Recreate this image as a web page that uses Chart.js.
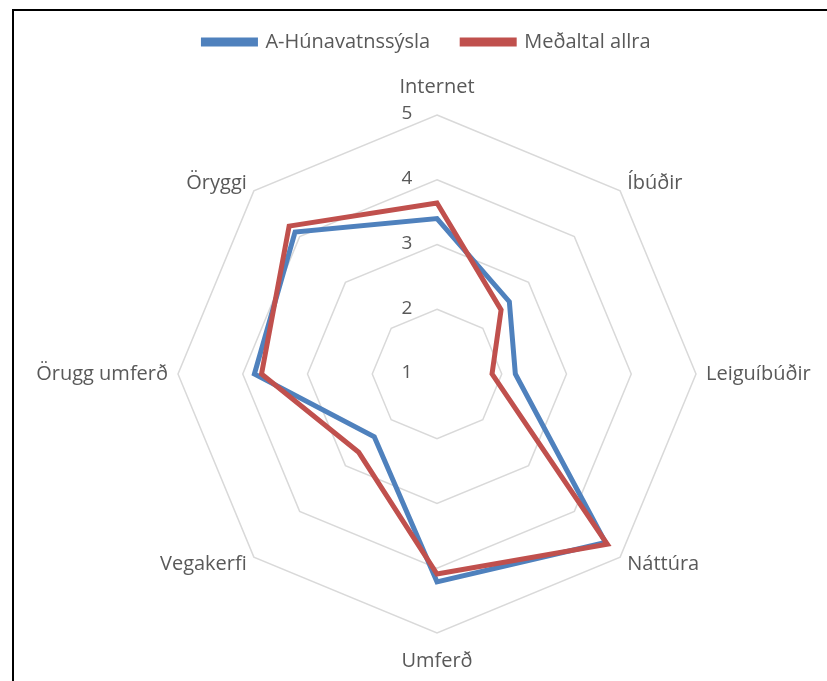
<!DOCTYPE html>
<html>
<head>
<meta charset="utf-8">
<script src="https://cdn.jsdelivr.net/npm/chart.js@4.4.1/dist/chart.umd.min.js"></script>
<style>
  html, body { margin: 0; padding: 0; background: #fff; }
  #frame {
    position: absolute; left: 12px; top: 9px; width: 815px; height: 672px;
    border-top: 2px solid #000; border-left: 2px solid #000;
  }
  #wrap { position: absolute; left: 0; top: 0; width: 827px; height: 681px; }
</style>
</head>
<body>
<div id="frame"></div>
<div id="wrap"><canvas id="chart-radar"></canvas></div>
<script>
// flokkar (ásar)
const categories = ['Internet', 'Íbúðir', 'Leiguíbúðir', 'Náttúra', 'Umferð', 'Vegakerfi', 'Örugg umferð', 'Öryggi'];
const seriesNames = ['A-Húnavatnssýsla', 'Meðaltal allra'];
const husavik = [3.40, 2.58, 2.21, 4.68, 4.21, 2.37, 3.82, 4.10];
const medaltal = [3.64, 2.40, 1.85, 4.72, 4.09, 2.71, 3.71, 4.23];
const tickValues = [1, 2, 3, 4, 5];

const textColor = '#595959';
const fontFamily = '"Open Sans", "Liberation Sans", sans-serif';

// tölurnar á ásnum, vinstra megin við miðju
const tickLabelPlugin = {
  id: 'tickLabels',
  afterDatasetsDraw(chart) {
    const scale = chart.scales.r;
    const ctx = chart.ctx;
    ctx.save();
    ctx.fillStyle = textColor;
    ctx.font = '19px ' + fontFamily;
    ctx.textAlign = 'center';
    ctx.textBaseline = 'middle';
    scale.ticks.forEach(t => {
      if (!tickValues.includes(t.value)) return;
      const d = scale.getDistanceFromCenterForValue(t.value);
      ctx.fillText(String(t.value), scale.xCenter - 30, scale.yCenter - d - 1);
    });
    ctx.restore();
  }
};

// heiti ásanna, sett eins og í Excel
const pointLabelPlugin = {
  id: 'pointLabelsExcel',
  afterDraw(chart) {
    const scale = chart.scales.r;
    const ctx = chart.ctx;
    ctx.save();
    ctx.fillStyle = textColor;
    ctx.font = '20px ' + fontFamily;
    ctx.textBaseline = 'middle';
    categories.forEach((label, i) => {
      const a = scale.getIndexAngle(i);
      const p = scale.getPointPosition(i, scale.drawingArea + 10);
      const sx = Math.sin(a);
      let y = p.y;
      if (Math.abs(sx) < 0.01) {
        ctx.textAlign = 'center';
        y += -Math.cos(a) * 18;
      } else {
        ctx.textAlign = sx > 0 ? 'left' : 'right';
      }
      ctx.fillText(label, p.x, y);
    });
    ctx.restore();
  }
};

// meira bil undir skýringunum og færa þær aðeins til vinstri
const legendSpacing = {
  id: 'legendSpacing',
  beforeInit(chart) {
    const fit = chart.legend.fit;
    chart.legend.fit = function () {
      fit.bind(chart.legend)();
      this.height += 53;
    };
  },
  afterLayout(chart) {
    chart.legend.left -= 10;
    chart.legend.right -= 10;
  }
};

const ctx = document.getElementById('chart-radar').getContext('2d');
new Chart(ctx, {
  type: 'radar',
  data: {
    labels: categories,
    datasets: [
      {
        label: seriesNames[0],
        data: husavik,
        borderColor: '#4F81BD',
        backgroundColor: '#4F81BD',
        borderWidth: 5,
        pointRadius: 0,
        fill: false,
        order: 2,
      },
      {
        label: seriesNames[1],
        data: medaltal,
        borderColor: '#C0504D',
        backgroundColor: '#C0504D',
        borderWidth: 5,
        pointRadius: 0,
        fill: false,
        order: 1,
      },
    ],
  },
  options: {
    responsive: true,
    maintainAspectRatio: false,
    animation: false,
    layout: { padding: { top: 0, left: 47, right: 0, bottom: 48 } },
    elements: { line: { tension: 0, borderJoinStyle: 'miter' } },
    plugins: {
      legend: {
        position: 'top',
        labels: {
          color: textColor,
          font: { family: fontFamily, size: 20 },
          boxWidth: 52,
          boxHeight: 4,
          padding: 32,
          sort: (a, b) => a.datasetIndex - b.datasetIndex,
        },
      },
      tooltip: { enabled: false },
    },
    scales: {
      r: {
        min: 1,
        max: 5,
        ticks: { stepSize: 1, display: false },
        angleLines: { display: false },
        grid: { color: '#D9D9D9', lineWidth: 1.5 },
        pointLabels: { display: false },
      },
    },
  },
  plugins: [tickLabelPlugin, pointLabelPlugin, legendSpacing],
});
</script>
</body>
</html>
